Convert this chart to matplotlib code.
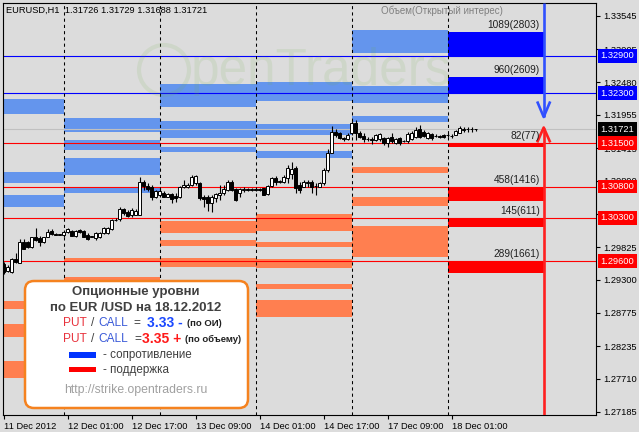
import numpy as np
import matplotlib
matplotlib.use('Agg')
import matplotlib.pyplot as plt
from matplotlib.patches import FancyBboxPatch, Rectangle, Circle

plt.rcParams['font.family'] = ['Liberation Sans', 'DejaVu Sans']

# EURUSD H1 candles, bar 0 = 11 Dec 2012 09:00
opens = [
    1.29557, 1.29449, 1.29433, 1.29629, 1.29573, 1.29905, 1.29915, 1.29825, 1.29995, 1.29979,
    1.29915, 1.29986, 1.30092, 1.30039, 1.30028, 1.30028, 1.30071, 1.30092, 1.30006, 1.30103,
    1.30092, 1.30022, 1.29995, 1.29969, 1.29995, 1.30055, 1.30049, 1.30114, 1.30263, 1.30279,
    1.30440, 1.30397, 1.30344, 1.30344, 1.30344, 1.30879, 1.30810, 1.30798, 1.30628, 1.30665,
    1.30702, 1.30638, 1.30681, 1.30649, 1.30628, 1.30789, 1.30793, 1.30825, 1.30853, 1.30853,
    1.30638, 1.30638, 1.30541, 1.30612, 1.30665, 1.30692, 1.30745, 1.30879, 1.30757, 1.30692,
    1.30750, 1.30757, 1.30750, 1.30761, 1.30757, 1.30772, 1.30681, 1.30810, 1.30933, 1.30879,
    1.30879, 1.30933, 1.31002, 1.31094, 1.30825, 1.30798, 1.30863, 1.30879, 1.30810, 1.30798,
    1.30853, 1.31066, 1.31335, 1.31682, 1.31656, 1.31576, 1.31560, 1.31656, 1.31826, 1.31666,
    1.31613, 1.31560, 1.31565, 1.31548, 1.31560, 1.31576, 1.31495, 1.31601, 1.31495, 1.31576,
    1.31537, 1.31537, 1.31560, 1.31592, 1.31720, 1.31682, 1.31576, 1.31645, 1.31613, 1.31613,
    1.31629, 1.31629, 1.31613, 1.31629, 1.31666, 1.31709, 1.31720, 1.31725, 1.31726]
highs = [
    1.29589, 1.29541, 1.29653, 1.29733, 1.29958, 1.29958, 1.29926, 1.29995, 1.30135, 1.30006,
    1.29995, 1.30124, 1.30119, 1.30047, 1.30044, 1.30103, 1.30135, 1.30103, 1.30103, 1.30114,
    1.30103, 1.30055, 1.30012, 1.30071, 1.30071, 1.30151, 1.30156, 1.30279, 1.30295, 1.30477,
    1.30461, 1.30424, 1.30451, 1.30440, 1.30959, 1.30906, 1.30853, 1.30825, 1.30745, 1.30772,
    1.30729, 1.30697, 1.30692, 1.30692, 1.30810, 1.30906, 1.30858, 1.30986, 1.30986, 1.30879,
    1.30665, 1.30665, 1.30665, 1.30692, 1.30825, 1.30825, 1.30906, 1.30906, 1.30772, 1.30772,
    1.30789, 1.30777, 1.30777, 1.30777, 1.30772, 1.30777, 1.30825, 1.30954, 1.30970, 1.30906,
    1.30986, 1.31147, 1.31190, 1.31131, 1.30879, 1.30906, 1.30906, 1.30906, 1.30853, 1.30879,
    1.31099, 1.31399, 1.31773, 1.31720, 1.31677, 1.31597, 1.31661, 1.31858, 1.31870, 1.31693,
    1.31656, 1.31597, 1.31592, 1.31645, 1.31661, 1.31597, 1.31597, 1.31666, 1.31581, 1.31601,
    1.31556, 1.31682, 1.31693, 1.31757, 1.31789, 1.31709, 1.31677, 1.31661, 1.31637, 1.31629,
    1.31645, 1.31653, 1.31637, 1.31717, 1.31773, 1.31762, 1.31762, 1.31757, 1.31729]
lows = [
    1.29396, 1.29428, 1.29412, 1.29565, 1.29565, 1.29790, 1.29814, 1.29819, 1.29934, 1.29846,
    1.29894, 1.29986, 1.30022, 1.30022, 1.30017, 1.29995, 1.30055, 1.30001, 1.29995, 1.30055,
    1.29990, 1.29947, 1.29985, 1.29942, 1.29979, 1.30039, 1.30044, 1.30108, 1.30247, 1.30252,
    1.30344, 1.30317, 1.30306, 1.30339, 1.30344, 1.30745, 1.30734, 1.30585, 1.30617, 1.30638,
    1.30628, 1.30633, 1.30541, 1.30557, 1.30612, 1.30772, 1.30777, 1.30809, 1.30825, 1.30585,
    1.30477, 1.30408, 1.30397, 1.30557, 1.30585, 1.30665, 1.30734, 1.30734, 1.30574, 1.30638,
    1.30718, 1.30729, 1.30729, 1.30729, 1.30729, 1.30660, 1.30665, 1.30798, 1.30825, 1.30858,
    1.30858, 1.30853, 1.30922, 1.30692, 1.30692, 1.30789, 1.30789, 1.30692, 1.30665, 1.30789,
    1.30825, 1.31039, 1.31335, 1.31601, 1.31564, 1.31532, 1.31548, 1.31629, 1.31548, 1.31580,
    1.31521, 1.31532, 1.31489, 1.31532, 1.31532, 1.31468, 1.31431, 1.31495, 1.31484, 1.31468,
    1.31516, 1.31495, 1.31548, 1.31581, 1.31576, 1.31597, 1.31564, 1.31548, 1.31589, 1.31580,
    1.31580, 1.31597, 1.31573, 1.31621, 1.31661, 1.31682, 1.31682, 1.31682, 1.31688]
closes = [
    1.29428, 1.29514, 1.29632, 1.29581, 1.29915, 1.29798, 1.29825, 1.29986, 1.29942, 1.29905,
    1.29986, 1.30066, 1.30039, 1.30028, 1.30034, 1.30071, 1.30114, 1.30006, 1.30092, 1.30071,
    1.29995, 1.29953, 1.30006, 1.30060, 1.30055, 1.30135, 1.30130, 1.30263, 1.30268, 1.30440,
    1.30371, 1.30333, 1.30424, 1.30413, 1.30879, 1.30810, 1.30757, 1.30628, 1.30734, 1.30734,
    1.30638, 1.30681, 1.30596, 1.30612, 1.30789, 1.30825, 1.30825, 1.30959, 1.30970, 1.30612,
    1.30596, 1.30541, 1.30628, 1.30681, 1.30692, 1.30757, 1.30879, 1.30745, 1.30585, 1.30757,
    1.30757, 1.30750, 1.30757, 1.30740, 1.30750, 1.30665, 1.30810, 1.30933, 1.30879, 1.30885,
    1.30959, 1.31094, 1.31083, 1.30773, 1.30745, 1.30879, 1.30869, 1.30789, 1.30815, 1.30863,
    1.31066, 1.31335, 1.31682, 1.31629, 1.31576, 1.31560, 1.31634, 1.31817, 1.31656, 1.31601,
    1.31560, 1.31565, 1.31548, 1.31629, 1.31640, 1.31495, 1.31576, 1.31537, 1.31560, 1.31495,
    1.31527, 1.31645, 1.31666, 1.31709, 1.31601, 1.31613, 1.31656, 1.31576, 1.31608, 1.31592,
    1.31601, 1.31624, 1.31608, 1.31698, 1.31736, 1.31730, 1.31725, 1.31720, 1.31721]

# day boundaries in bars (11, 12, 13, 14, 17, 18 Dec)
day_edges = [-1, 15, 39, 63, 87, 111, 135]
x_ticks = [0, 16, 32, 48, 64, 80, 96, 112]
x_labels = ['11 Dec 2012', '12 Dec 01:00', '12 Dec 17:00', '13 Dec 09:00',
            '14 Dec 01:00', '14 Dec 17:00', '17 Dec 09:00', '18 Dec 01:00']
y_ticks = [1.33545, 1.33005, 1.32480, 1.31955, 1.31415, 1.30890, 1.30365,
           1.29825, 1.29300, 1.28775, 1.28235, 1.27710, 1.27185]

# option levels of previous days
res_day = [0, 0, 0, 1, 1, 1, 1, 2, 2, 2, 3, 3, 3, 4, 4, 4]
res_lo = [1.31971, 1.30862, 1.30477, 1.31682, 1.31388, 1.30986, 1.30702, 1.32083,
          1.31585, 1.31360, 1.32180, 1.31629, 1.31264, 1.32951, 1.32148, 1.31842]
res_hi = [1.32207, 1.31034, 1.30665, 1.31902, 1.31548, 1.31264, 1.30789, 1.32448,
          1.31854, 1.31441, 1.32480, 1.31801, 1.31372, 1.33315, 1.32416, 1.31934]
sup_day = [0, 0, 0, 1, 1, 2, 2, 2, 3, 3, 3, 3, 3, 4, 4, 4]
sup_lo = [1.28829, 1.28379, 1.27730, 1.29594, 1.29284, 1.30059, 1.29846, 1.29513,
          1.30091, 1.29825, 1.29497, 1.29160, 1.28710, 1.31023, 1.30493, 1.29674]
sup_hi = [1.28962, 1.28593, 1.27999, 1.29648, 1.29348, 1.30247, 1.29942, 1.29648,
          1.30360, 1.29905, 1.29637, 1.29235, 1.28978, 1.31120, 1.30638, 1.30167]

# 18.12.2012 levels
call_strikes = [1.3290, 1.3230]
call_top = [1.33288, 1.32565]
call_labels = ['1089(2803)', '960(2609)']
put_strikes = [1.3150, 1.3080, 1.3030, 1.2960]
put_bottom = [1.31431, 1.30573, 1.30156, 1.29404]
put_labels = ['82(77)', '458(1416)', '145(611)', '289(1661)']
res_arrow = 1.31918
sup_arrow = 1.31749
pc_oi = 3.33
pc_vol = 3.35

bg = '#dcdcdc'
fig = plt.figure(figsize=(6.39, 4.32), dpi=100, facecolor=bg)
ax = fig.add_axes([3 / 639, 17 / 432, 593 / 639, 412 / 432])
ax.set_facecolor(bg)
ax.set_xlim(-0.175, 148.075)
ax.set_ylim(1.27131, 1.33749)

# bands
for d, lo, hi in zip(res_day, res_lo, res_hi):
    ax.add_patch(Rectangle((day_edges[d], lo), day_edges[d + 1] - day_edges[d], hi - lo,
                           fc='#6495ed', ec='none', zorder=1))
for d, lo, hi in zip(sup_day, sup_lo, sup_hi):
    ax.add_patch(Rectangle((day_edges[d], lo), day_edges[d + 1] - day_edges[d], hi - lo,
                           fc='#ff7f50', ec='none', zorder=1))
x0, x1 = day_edges[5], day_edges[6]
for s, top, lab in zip(call_strikes, call_top, call_labels):
    ax.add_patch(Rectangle((x0, s), x1 - x0, top - s, fc='#0000ff', ec='none', zorder=1))
    ax.annotate(lab, xy=(x1 - 1, top), xytext=(0, 1.5), textcoords='offset points',
                ha='right', va='bottom', fontsize=7.3, color='#202020', zorder=6)
    ax.axhline(s, color='#0000ff', lw=0.8, zorder=2.5)
for s, bot, lab in zip(put_strikes, put_bottom, put_labels):
    ax.add_patch(Rectangle((x0, bot), x1 - x0, s - bot, fc='#ff0000', ec='none', zorder=1))
    ax.annotate(lab, xy=(x1 - 1, s), xytext=(0, 1.5), textcoords='offset points',
                ha='right', va='bottom', fontsize=7.3, color='#202020', zorder=6)
    ax.axhline(s, color='#ff0000', lw=0.8, zorder=2.5)

ax.axhline(closes[-1], color='#c0c0c0', lw=0.8, zorder=2.4)
for e in day_edges[1:-1]:
    ax.axvline(e, color='black', lw=0.75, ls=(0, (3, 3)), zorder=2.6)

# candles
x = np.arange(len(opens))
o, h, l, c = map(np.array, (opens, highs, lows, closes))
ax.vlines(x, l, h, color='black', lw=0.8, zorder=3)
cols = ['white' if cc >= oo else 'black' for oo, cc in zip(o, c)]
ax.bar(x, np.abs(c - o), bottom=np.minimum(o, c), width=0.7, color=cols,
       edgecolor='black', linewidth=0.7, zorder=4)

# arrows
top = ax.get_ylim()[1]
bottom = ax.get_ylim()[0]
ax.plot([x1, x1], [res_arrow, top], color='#3050ff', lw=1.9, solid_capstyle='butt', zorder=5)
ax.plot([x1 - 1.5, x1, x1 + 1.5], [res_arrow + 0.0023, res_arrow, res_arrow + 0.0023],
        color='#3050ff', lw=1.9, zorder=5)
ax.plot([x1, x1], [sup_arrow, bottom], color='#ff2020', lw=1.9, solid_capstyle='butt', zorder=5)
ax.plot([x1 - 1.5, x1, x1 + 1.5], [sup_arrow - 0.0022, sup_arrow, sup_arrow - 0.0022],
        color='#ff2020', lw=1.9, zorder=5)

# axes
ax.yaxis.tick_right()
ax.set_yticks(y_ticks)
ax.set_yticklabels([f'{v:.5f}' for v in y_ticks])
ax.set_xticks(x_ticks)
ax.set_xticklabels(x_labels, ha='left')
ax.tick_params(axis='both', direction='out', length=3, width=0.8, labelsize=6.7, pad=2)
for sp in ax.spines.values():
    sp.set_color('black')
    sp.set_linewidth(0.8)

price_boxes = [(1.32900, '#0000ff'), (1.32300, '#0000ff'), (closes[-1], 'black'),
               (1.31500, '#ff0000'), (1.30800, '#ff0000'), (1.30300, '#ff0000'),
               (1.29600, '#ff0000')]
for v, fc in price_boxes:
    ax.annotate(f'{v:.5f}', xy=(1, v), xycoords=('axes fraction', 'data'), xytext=(3.3, 0),
                textcoords='offset points', ha='left', va='center', fontsize=6.7,
                color='white', annotation_clip=False, zorder=10,
                bbox=dict(boxstyle='square,pad=0.25', fc=fc, ec='none'))

# overlay in pixel coordinates
ov = fig.add_axes([0, 0, 1, 1])
ov.set_xlim(0, 639)
ov.set_ylim(432, 0)
ov.axis('off')
ov.patch.set_alpha(0)

ov.add_patch(Circle((164, 70), 25, fill=False, ec='#6fb040', lw=3, alpha=0.12))
ov.text(191, 72, 'penTraders', fontsize=37, color='#6fb040', alpha=0.12, va='center')

ov.text(6.5, 10.7, f'EURUSD,H1  {opens[-1]:.5f} {highs[-1]:.5f} {lows[-1]:.5f} {closes[-1]:.5f}',
        fontsize=6.7, va='center', color='black')
ov.text(441.6, 10.5, 'Объем(Открытый интерес)', fontsize=7, va='center', ha='center',
        color='#808080')

# info box
ov.add_patch(FancyBboxPatch((25, 281), 223, 127, boxstyle='round,pad=0,rounding_size=9',
                            fc='white', ec='#f5821f', lw=1.8, zorder=2))
dark = '#404040'
ov.text(136, 292.5, 'Опционные уровни', fontsize=9.5, fontweight='bold', color=dark,
        ha='center', va='center', zorder=3)
ov.text(136, 307.7, 'по EUR /USD на 18.12.2012', fontsize=9.5, fontweight='bold', color=dark,
        ha='center', va='center', zorder=3)
for yy, val, vcol, sign, note, xeq, xval, xnote in [
        (323.3, pc_oi, '#1a48ff', '-', '(по ОИ)', 133.5, 146.7, 186.7),
        (339.0, pc_vol, '#ff1a1a', '+', '(по объему)', 134.5, 141.7, 185.0)]:
    ov.text(63.3, yy, 'PUT', fontsize=8.6, color='#e8323c', va='center', zorder=3)
    ov.text(91, yy, '/', fontsize=8.6, color=dark, va='center', zorder=3)
    ov.text(98.5, yy, 'CALL', fontsize=8.6, color='#3a5ad8', va='center', zorder=3)
    ov.text(xeq, yy, '=', fontsize=8.6, color=dark, va='center', zorder=3)
    ov.text(xval, yy, f'{val:.2f} {sign}', fontsize=10, fontweight='bold', color=vcol,
            va='center', zorder=3)
    ov.text(xnote, yy + 0.5, note, fontsize=6.8, fontweight='bold', color='#202020',
            va='center', zorder=3)
ov.add_patch(Rectangle((69, 352.3), 27, 5.4, fc='#0033ff', ec='none', zorder=3))
ov.text(103.3, 355, '- сопротивление', fontsize=8.4, color=dark, va='center', zorder=3)
ov.add_patch(Rectangle((69, 367.2), 27, 5.2, fc='#ff0000', ec='none', zorder=3))
ov.text(103.3, 370, '- поддержка', fontsize=8.4, color=dark, va='center', zorder=3)
ov.text(136.3, 389.5, 'http://strike.opentraders.ru', fontsize=8.8, color='#a0a0a0',
        ha='center', va='center', zorder=3)

fig.savefig('out.png', dpi=100, facecolor=bg)
